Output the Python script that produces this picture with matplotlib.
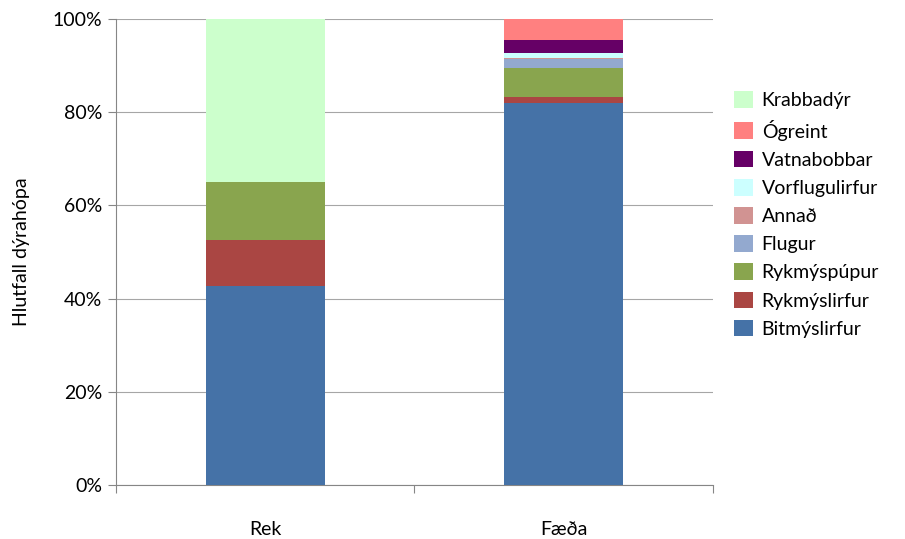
import matplotlib
matplotlib.use("Agg")
import matplotlib.pyplot as plt
from matplotlib.ticker import FixedLocator, FuncFormatter, NullFormatter
import numpy as np

plt.rcParams['font.family'] = ['Lato', 'DejaVu Sans']

categories = ["Rek", "Fæða"]
series_names = ["Bitmýslirfur", "Rykmýslirfur", "Rykmýspúpur", "Flugur", "Annað",
                "Vorflugulirfur", "Vatnabobbar", "Ógreint", "Krabbadýr"]
bitmyslirfur = [42.7, 82.0]
rykmyslirfur = [9.9, 1.3]
rykmyspupur = [12.4, 6.25]
flugur = [0.0, 1.9]
annad = [0.0, 0.2]
vorflugulirfur = [0.0, 1.1]
vatnabobbar = [0.0, 2.85]
ogreint = [0.0, 4.4]
krabbadyr = [35.0, 0.0]
series_values = [bitmyslirfur, rykmyslirfur, rykmyspupur, flugur, annad,
                 vorflugulirfur, vatnabobbar, ogreint, krabbadyr]
colors = ["#4572A7", "#AA4643", "#89A54E", "#93A9CF", "#D19392",
          "#CCFFFF", "#660066", "#FF8080", "#CCFFCC"]
y_ticks = [0, 20, 40, 60, 80, 100]

fig = plt.figure(figsize=(9.05, 5.39), dpi=100)
ax = fig.add_axes([0.1282, 0.1002, 0.7878 - 0.1282, 0.9647 - 0.1002])

x = np.arange(len(categories))
bottom = np.zeros(len(categories))
handles = []
for name, vals, col in zip(series_names, series_values, colors):
    vals = np.array(vals, dtype=float)
    h = ax.bar(x, vals, width=0.4, bottom=bottom, color=col, label=name,
               linewidth=0, zorder=3)
    handles.append(h)
    bottom += vals

ax.set_xlim(-0.5, len(categories) - 0.5)
ax.set_ylim(0, 100)

ax.yaxis.set_major_locator(FixedLocator(y_ticks))
ax.yaxis.set_major_formatter(FuncFormatter(lambda v, p: f"{int(v)}%"))
ax.grid(axis='y', color='#A6A6A6', linewidth=0.8, zorder=0)
ax.set_axisbelow(True)

# category boundaries carry the tick marks, labels sit at the centres
ax.xaxis.set_major_locator(FixedLocator([-0.5, 0.5, 1.5]))
ax.xaxis.set_major_formatter(NullFormatter())
ax.xaxis.set_minor_locator(FixedLocator(list(x)))
ax.set_xticklabels(categories, minor=True)
ax.tick_params(axis='x', which='minor', length=0, pad=26, labelsize=14)
ax.tick_params(axis='x', which='major', length=6, width=0.8, color='#868686', direction='out')
ax.tick_params(axis='y', length=6, width=0.8, color='#868686', direction='out',
               labelsize=14, pad=4)

for s in ['top', 'right']:
    ax.spines[s].set_visible(False)
for s in ['left', 'bottom']:
    ax.spines[s].set_color('#868686')
    ax.spines[s].set_linewidth(0.8)

ax.set_ylabel("Hlutfall dýrahópa", fontsize=14, labelpad=16)

leg = fig.legend(handles[::-1], series_names[::-1], loc='upper left',
                 bbox_to_anchor=(0.803, 0.845), frameon=False, fontsize=14,
                 handlelength=0.95, handleheight=0.95, handletextpad=0.45,
                 labelspacing=0.52, borderaxespad=0)

fig.savefig("out.png", dpi=100)
